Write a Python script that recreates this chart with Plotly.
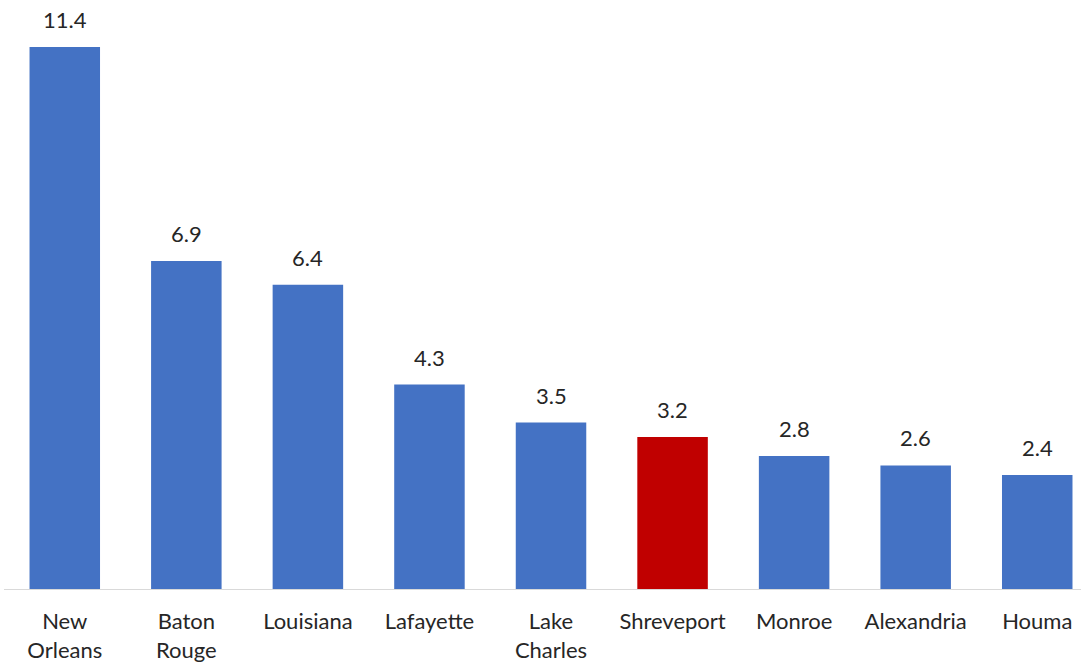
import plotly.graph_objects as go

categories = ["New<br>Orleans", "Baton<br>Rouge", "Louisiana", "Lafayette", "Lake<br>Charles",
              "Shreveport", "Monroe", "Alexandria", "Houma"]
values = [11.4, 6.9, 6.4, 4.3, 3.5, 3.2, 2.8, 2.6, 2.4]
highlight = "Shreveport"

BLUE = "#4472C4"
RED = "#C00000"
colors = [RED if c == highlight else BLUE for c in categories]
FONT = "Lato"

fig = go.Figure()
fig.add_trace(go.Bar(x=categories, y=values, marker=dict(color=colors, line=dict(width=0)),
                     hoverinfo="skip"))

for c, v in zip(categories, values):
    fig.add_annotation(x=c, y=v, text=f"{v:.1f}", showarrow=False, yanchor="bottom",
                       yshift=12, font=dict(family=FONT, size=22, color="#262626"))

fig.update_layout(
    width=1081, height=662,
    margin=dict(l=4, r=0, t=0, b=73),
    paper_bgcolor="white", plot_bgcolor="white",
    bargap=0.42, showlegend=False,
    font=dict(family=FONT, size=22, color="#262626"),
)
fig.update_xaxes(type="category", range=[-0.5, 8.36], showline=True, linecolor="#D9D9D9",
                 linewidth=1, ticks="", showgrid=False, zeroline=False,
                 tickfont=dict(family=FONT, size=22, color="#262626"), ticklabelstandoff=13)
fig.update_yaxes(range=[0, 12.39], visible=False, showgrid=False, zeroline=False)

fig.write_html("out.html", config={"displayModeBar": False},
               post_script="document.body.style.margin='0';document.body.style.overflow='hidden';")
